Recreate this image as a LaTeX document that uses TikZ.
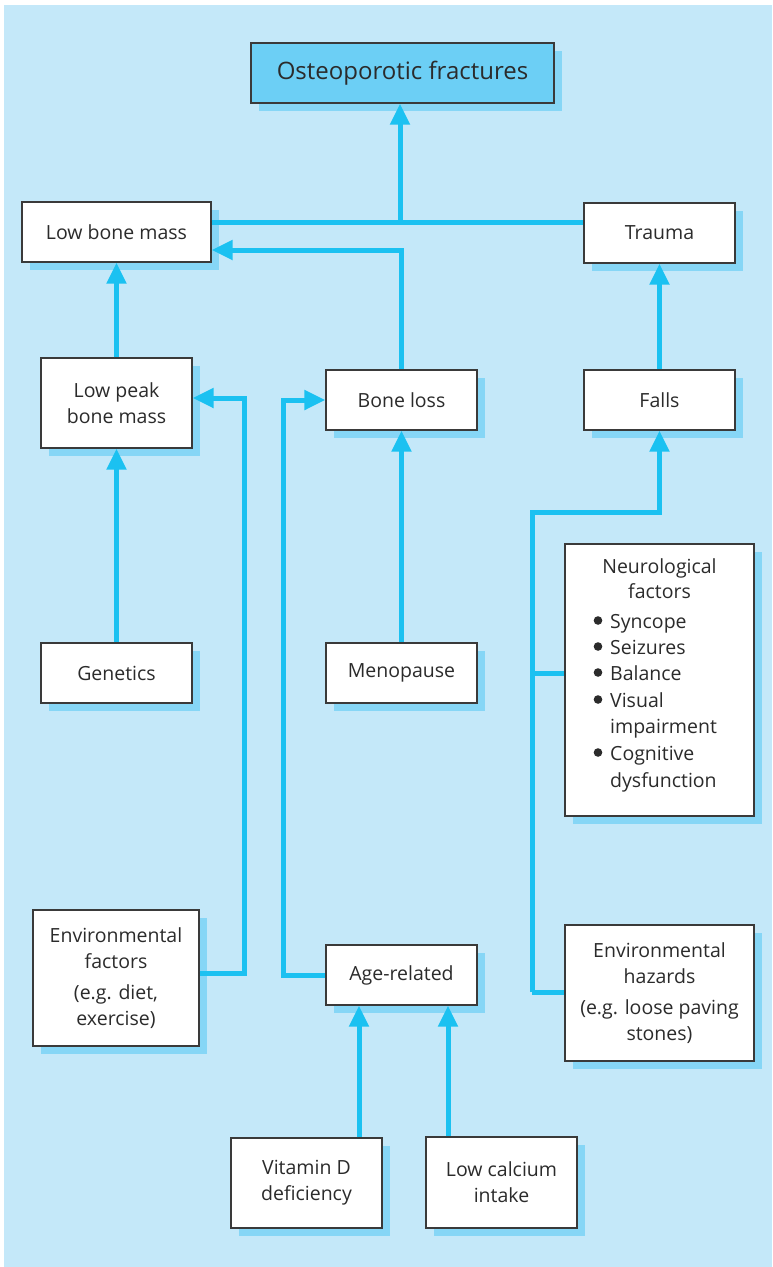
\documentclass[tikz,border=0pt]{standalone}
\usepackage{fontspec}
\setmainfont{Open Sans}
\usetikzlibrary{arrows.meta,shadows}
\definecolor{bg}{HTML}{C4E8F9}
\definecolor{lc}{HTML}{1BC1F1}
\definecolor{shc}{HTML}{86D6F6}
\definecolor{topc}{HTML}{6CCFF5}
\definecolor{txt}{HTML}{2B2B2B}
\definecolor{bd}{HTML}{3A3A3A}
\begin{document}
\begin{tikzpicture}[x=1pt,y=-1pt,
 box/.style={draw=bd,line width=1.2pt,fill=white,text=txt,align=center,inner sep=0pt,
   font=\fontsize{19.5}{26}\selectfont,
   drop shadow={shadow xshift=8pt,shadow yshift=-8pt,fill=shc,opacity=1}},
 conn/.style={draw=lc,line width=5pt,line join=miter},
 arr/.style={conn,-{Triangle[length=21pt,width=19pt]}},
 lbl/.style={text=txt,inner sep=0pt,font=\fontsize{19.5}{26}\selectfont,anchor=base},
]
\useasboundingbox (0,0) rectangle (772,1267);
\fill[bg] (4,5) rectangle (772,1267);

% boxes
\node[box,fill=topc,minimum width=303pt,minimum height=60pt,font=\fontsize{24}{28}\selectfont] (top) at (402.5,73) {Osteoporotic fractures};
\node[box,minimum width=189pt,minimum height=60pt] (lbm) at (116.5,232) {Low bone mass};
\node[box,minimum width=151pt,minimum height=60pt] (trauma) at (659.5,233) {Trauma};
\node[box,minimum width=151pt,minimum height=90pt] (lpbm) at (116.5,403) {Low peak\\bone mass};
\node[box,minimum width=151pt,minimum height=60pt] (boneloss) at (401.5,400) {Bone loss};
\node[box,minimum width=151pt,minimum height=60pt] (falls) at (659.5,400) {Falls};
\node[box,minimum width=151pt,minimum height=60pt] (genetics) at (116.5,673) {Genetics};
\node[box,minimum width=151pt,minimum height=60pt] (menopause) at (401.5,673) {Menopause};
\node[box,minimum width=166pt,minimum height=136pt] (envf) at (116,978) {Environmental\\factors\\[5pt](e.g. diet,\\exercise)};
\node[box,minimum width=151pt,minimum height=60pt] (age) at (401.5,975) {Age-related};
\node[box,minimum width=151pt,minimum height=90pt] (vitd) at (306.5,1183) {Vitamin D\\deficiency};
\node[box,minimum width=151pt,minimum height=91pt] (calc) at (501.5,1182.5) {Low calcium\\intake};
\node[box,minimum width=189pt,minimum height=272pt] (neuro) at (659.5,680) {};
\node[box,minimum width=189pt,minimum height=136pt] (envh) at (659.5,993) {Environmental\\hazards\\[5pt](e.g. loose paving\\stones)};

% neurological factors text
\node[lbl] (nt1) at (659.5,573) {Neurological};
\node[lbl] (nt2) at (659.5,598) {factors};
\foreach \t/\yy/\b [count=\i] in {Syncope/628/1,Seizures/654/1,Balance/680/1,Visual/707/1,impairment/733/0,Cognitive/760/1,dysfunction/787/0}{
  \node[lbl,anchor=base west] (nl\i) at (610,\yy) {\t};
  \ifnum\b=1 \fill[txt] (598,\yy-7.5) circle (4.3pt);\fi
}

% connectors
\coordinate (j) at (400,222);
\coordinate (b1) at (0,250);
\coordinate (ly) at (0,398);
\coordinate (ef) at (244,973);
\coordinate (ar) at (283,975);
\coordinate (vx) at (359,0);
\coordinate (cx) at (448,0);
\coordinate (fa) at (532,512);
\coordinate (fn) at (532,673);
\coordinate (fb) at (532,992);

\draw[conn] (lbm.east|-j) -- (trauma.west|-j);
\draw[arr] (j) -- (top.south-|j);
\draw[arr] (boneloss.north) |- (lbm.east|-b1);
\draw[arr] (lpbm.north) -- (lbm.south);
\draw[arr] (falls.north) -- (trauma.south);
\draw[arr] (genetics.north) -- (lpbm.south);
\draw[arr] (menopause.north) -- (boneloss.south);
\draw[arr] (envf.east|-ef) -- (ef) |- (lpbm.east|-ly);
\draw[arr] (age.west) -- (ar) |- (boneloss.west);
\draw[arr] (vitd.north-|vx) -- (age.south-|vx);
\draw[arr] (calc.north-|cx) -- (age.south-|cx);
\draw[arr] (fb) -- (fa) -| (falls.south);
\draw[conn] (fn) -- (neuro.west|-fn);
\draw[conn] (fb) -- (envh.west|-fb);
\end{tikzpicture}
\end{document}
